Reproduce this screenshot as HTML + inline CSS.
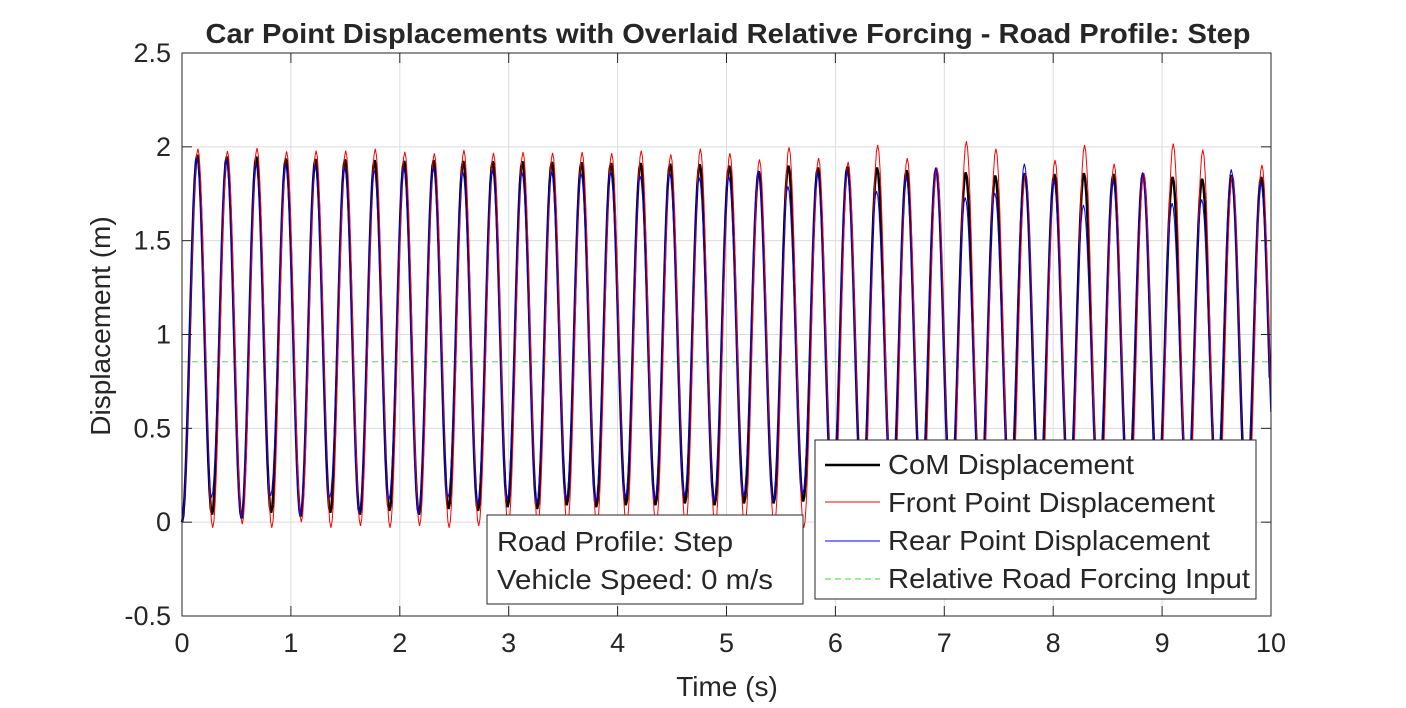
<!DOCTYPE html>
<html><head><meta charset="utf-8"><style>
body{margin:0;background:#fff;}
svg text{font-family:"Liberation Sans",Arial,sans-serif;fill:#262626;}
</style></head><body>
<svg id="chart" width="1406" height="703" xmlns="http://www.w3.org/2000/svg">
<rect x="0" y="0" width="1406" height="703" fill="#fff"/>
<g id="grid"></g>
<g id="series"></g>
<rect x="182" y="53" width="1089" height="563" fill="none" stroke="#262626" stroke-width="1"/>
<g id="ticks"></g>
<text x="728" y="43" text-anchor="middle" font-size="28" font-weight="bold" fill="#000" textLength="1045" lengthAdjust="spacingAndGlyphs">Car Point Displacements with Overlaid Relative Forcing - Road Profile: Step</text>
<text x="727" y="696" text-anchor="middle" font-size="28">Time (s)</text>
<text transform="translate(110,326) rotate(-90)" text-anchor="middle" font-size="28">Displacement (m)</text>
<g>
<rect x="487" y="515" width="316" height="89" fill="#fff" stroke="#262626" stroke-width="1"/>
<text x="497" y="551" font-size="28" fill="#000" textLength="236" lengthAdjust="spacingAndGlyphs">Road Profile: Step</text>
<text x="497" y="589" font-size="28" fill="#000" textLength="276" lengthAdjust="spacingAndGlyphs">Vehicle Speed: 0 m/s</text>
</g>
<g>
<rect x="815" y="440" width="441" height="159" fill="#fff" stroke="#262626" stroke-width="1"/>
<g><line x1="825" y1="465" x2="880" y2="465" stroke="#000" stroke-width="2.5"/><text x="888" y="474" font-size="28" fill="#000" textLength="246" lengthAdjust="spacingAndGlyphs">CoM Displacement</text></g>
<g><line x1="825" y1="502" x2="880" y2="502" stroke="#f00" stroke-width="1"/><text x="888" y="512" font-size="28" fill="#000" textLength="327" lengthAdjust="spacingAndGlyphs">Front Point Displacement</text></g>
<g><line x1="825" y1="541" x2="880" y2="541" stroke="#00f" stroke-width="1"/><text x="888" y="550" font-size="28" fill="#000" textLength="322" lengthAdjust="spacingAndGlyphs">Rear Point Displacement</text></g>
<g><line x1="825" y1="579" x2="880" y2="579" stroke="#33dd33" stroke-width="1" stroke-dasharray="6,4"/><text x="888" y="588" font-size="28" fill="#000" textLength="362" lengthAdjust="spacingAndGlyphs">Relative Road Forcing Input</text></g>
</g>
</svg>
<script>
const xTicks=[0,1,2,3,4,5,6,7,8,9,10];
const yTicks=[-0.5,0,0.5,1,1.5,2,2.5];
const yTickLabels=["-0.5","0","0.5","1","1.5","2","2.5"];
const firstPeakTime=0.14;
const period=0.2714;
const comPeaks=[1.957,1.948,1.948,1.938,1.935,1.933,1.929,1.925,1.929,1.925,1.923,1.923,1.92,1.918,1.914,1.914,1.91,1.907,1.90,1.87,1.90,1.89,1.895,1.89,1.876,1.885,1.864,1.847,1.86,1.855,1.86,1.855,1.86,1.84,1.83,1.85,1.84];
const frontPeaks=[1.99,1.978,1.994,1.976,1.98,1.98,1.99,1.974,1.965,1.983,1.968,1.972,1.968,1.972,1.966,1.98,1.96,1.99,1.966,1.933,1.998,1.94,1.92,2.01,1.94,1.89,2.03,1.99,1.86,1.93,2.01,1.91,1.86,2.017,1.985,1.85,1.904];
const rearPeaks=[1.94,1.93,1.91,1.907,1.90,1.89,1.877,1.888,1.89,1.864,1.877,1.864,1.867,1.858,1.864,1.845,1.858,1.836,1.84,1.874,1.79,1.86,1.87,1.765,1.84,1.89,1.73,1.755,1.91,1.82,1.69,1.82,1.864,1.70,1.72,1.88,1.81];
const comTroughs=[0.04,0.02,0.05,0.03,0.05,0.04,0.06,0.04,0.07,0.06,0.08,0.07,0.09,0.08,0.09,0.09,0.1,0.09,0.1,0.1,0.11,0.1,0.11,0.11,0.12,0.11,0.12,0.12,0.13,0.12,0.13,0.13,0.13,0.13,0.14,0.13,0.14];
const frontTroughs=[-0.03,-0.01,-0.03,0.0,-0.03,-0.02,-0.03,-0.02,-0.03,-0.02,-0.03,-0.02,-0.03,-0.03,-0.03,-0.03,-0.03,-0.03,-0.03,-0.03,-0.03,-0.03,-0.03,-0.03,-0.03,-0.03,-0.03,-0.03,-0.03,-0.03,-0.03,-0.03,-0.03,-0.03,-0.03,-0.03,-0.03];
const rearTroughs=[0.13,0.02,0.14,0.03,0.13,0.05,0.12,0.04,0.13,0.1,0.12,0.1,0.12,0.11,0.13,0.12,0.14,0.11,0.14,0.11,0.15,0.13,0.15,0.13,0.16,0.13,0.16,0.14,0.17,0.14,0.17,0.15,0.18,0.15,0.18,0.16,0.18];
const forcingLevel=[0.855];
const phaseShift={com:0,front:0.006,rear:-0.004};

const X0=182,X1=1271,Y0=616,Y1=53;
function xs(t){return X0+(t-0)/(10-0)*(X1-X0);}
function ys(v){return Y0-(v-(-0.5))/(2.5-(-0.5))*(Y0-Y1);}
const NS="http://www.w3.org/2000/svg";
const grid=document.getElementById('grid'),ticks=document.getElementById('ticks'),series=document.getElementById('series');
function mk(tag,attrs,parent){const e=document.createElementNS(NS,tag);for(const k in attrs)e.setAttribute(k,attrs[k]);parent.appendChild(e);return e;}
xTicks.forEach((t,i)=>{
 const g=mk('line',{x1:xs(t),x2:xs(t),y1:Y1,y2:Y0,stroke:'#dcdcdc','stroke-width':1},grid);
 
 
 mk('line',{x1:xs(t),x2:xs(t),y1:Y0,y2:Y0-10,stroke:'#262626'},ticks);
 mk('line',{x1:xs(t),x2:xs(t),y1:Y1,y2:Y1+10,stroke:'#262626'},ticks);
 const tx=mk('text',{x:xs(t),y:Y0+36,'text-anchor':'middle','font-size':27},ticks);
 tx.textContent=String(t);
 
 
});
yTicks.forEach((v,i)=>{
 const g=mk('line',{x1:X0,x2:X1,y1:ys(v),y2:ys(v),stroke:'#dcdcdc','stroke-width':1},grid);
 
 
 mk('line',{x1:X0,x2:X0+10,y1:ys(v),y2:ys(v),stroke:'#262626'},ticks);
 mk('line',{x1:X1,x2:X1-10,y1:ys(v),y2:ys(v),stroke:'#262626'},ticks);
 const tx=mk('text',{x:X0-11,y:ys(v)+9,'text-anchor':'end','font-size':27},ticks);
 tx.textContent=yTickLabels[i];
 
 
});
function buildPath(peaks,troughs,shift){
 const ext=[[0,0]];
 for(let k=0;k<peaks.length;k++){
  const tp=firstPeakTime+k*period+shift;
  ext.push([tp,peaks[k]]);
  ext.push([tp+period/2,troughs[k]]);
 }
 let d='M'+xs(0).toFixed(2)+','+ys(0).toFixed(2);
 for(let i=1;i<ext.length;i++){
  const [ta,va]=ext[i-1],[tb,vb]=ext[i];
  for(let s=1;s<=12;s++){
   const t=ta+(tb-ta)*s/12;
   if(t>10)return d;
   const v=va+(vb-va)*(1-Math.cos(Math.PI*s/12))/2;
   d+='L'+xs(t).toFixed(2)+','+ys(v).toFixed(2);
  }
 }
 return d;
}
const fl=mk('line',{x1:xs(0),x2:xs(10),y1:ys(forcingLevel[0]),y2:ys(forcingLevel[0]),stroke:'#66cc66','stroke-width':1,'stroke-dasharray':'6,4'},series);


const pc=mk('path',{d:buildPath(comPeaks,comTroughs,phaseShift.com),fill:'none',stroke:'#000','stroke-width':2.5},series);


const pf=mk('path',{d:buildPath(frontPeaks,frontTroughs,phaseShift.front),fill:'none',stroke:'#f00','stroke-width':1},series);


const pr=mk('path',{d:buildPath(rearPeaks,rearTroughs,phaseShift.rear),fill:'none',stroke:'#00f','stroke-width':1},series);


</script>
</body></html>
